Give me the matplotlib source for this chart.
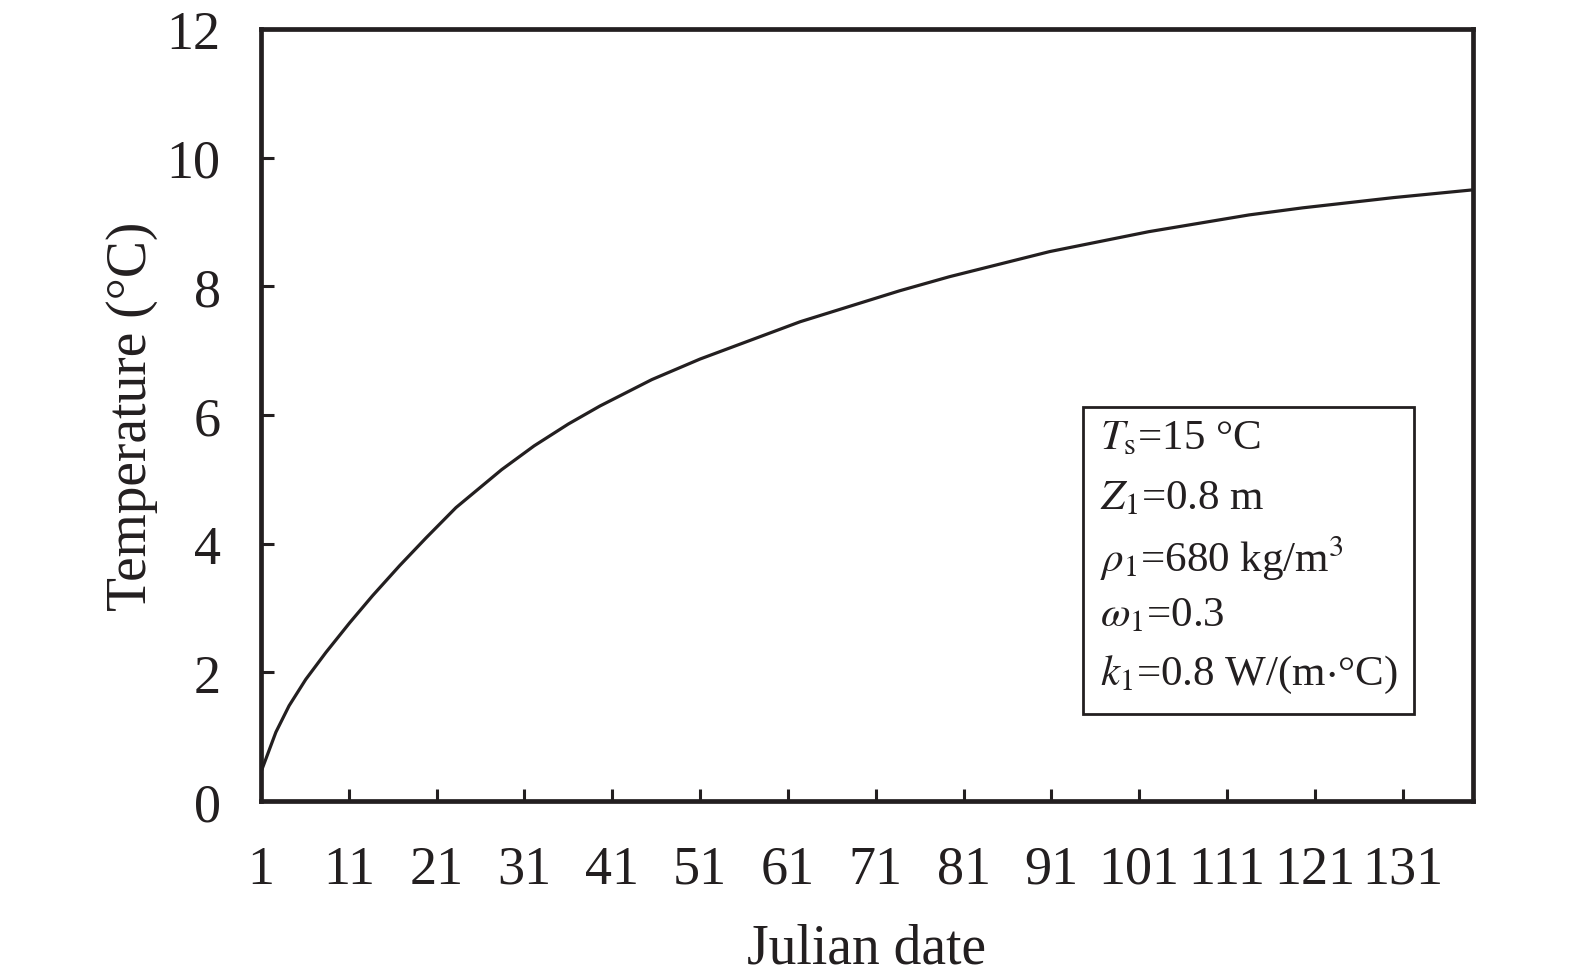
import numpy as np
import matplotlib.pyplot as plt
from matplotlib.patches import Rectangle

# valores
julian_day = [1, 2.7, 4.2, 6.1, 8.4, 11.1, 13.7, 16.8, 19.8, 23.2, 28.4, 32.1,
              36, 39.6, 45.5, 51, 62.4, 73.7, 79.4, 90.8, 102.1, 113.5, 119.6,
              130, 139]
temperature = [0.45, 1.07, 1.48, 1.89, 2.31, 2.77, 3.19, 3.66, 4.09, 4.56,
               5.15, 5.52, 5.86, 6.14, 6.55, 6.87, 7.45, 7.93, 8.15, 8.54,
               8.85, 9.11, 9.22, 9.38, 9.50]
x_ticks = list(range(1, 132, 10))
y_ticks = list(range(0, 13, 2))
params = [r'$T_{\mathrm{s}}$=15 °C',
          r'$Z_{1}$=0.8 m',
          r'$\rho_{1}$=680 kg/m$^{3}$',
          r'$\omega_{1}$=0.3',
          r'$k_{1}$=0.8 W/(m$\cdot$°C)']

plt.rcParams['font.family'] = ['Liberation Serif', 'DejaVu Serif']
plt.rcParams['mathtext.fontset'] = 'stix'

fig = plt.figure(figsize=(15.75, 9.78), dpi=100)
ax = fig.add_axes([0.1657, 0.1800, 0.7695, 0.7893])

ax.plot(julian_day, temperature, color='#231f20', lw=2.3,
        solid_joinstyle='round')

ax.set_xlim(1, 139)
ax.set_ylim(0, 12)
ax.set_xticks(x_ticks)
ax.set_yticks(y_ticks)
ax.tick_params(direction='in', length=9, width=2.2, labelsize=39,
               color='#231f20', labelcolor='#231f20')
ax.tick_params(axis='x', pad=31)
ax.tick_params(axis='y', pad=29)
for s in ax.spines.values():
    s.set_linewidth(3.4)
    s.set_color('#231f20')

ax.set_xlabel('Julian date', fontsize=40, labelpad=20, color='#231f20')
ax.set_ylabel('Temperature (°C)', fontsize=40, labelpad=6, color='#231f20')

# caixa com parametros
ax.add_patch(Rectangle((0.678, 0.113), 0.273, 0.397, transform=ax.transAxes,
                       fill=False, lw=2.0, ec='#231f20', zorder=3))
ys = [0.470, 0.392, 0.316, 0.241, 0.164]
for t, yy in zip(params, ys):
    ax.text(0.692, yy, t, transform=ax.transAxes, fontsize=31,
            va='center', ha='left', color='#231f20')

fig.savefig('out.png', dpi=100)
